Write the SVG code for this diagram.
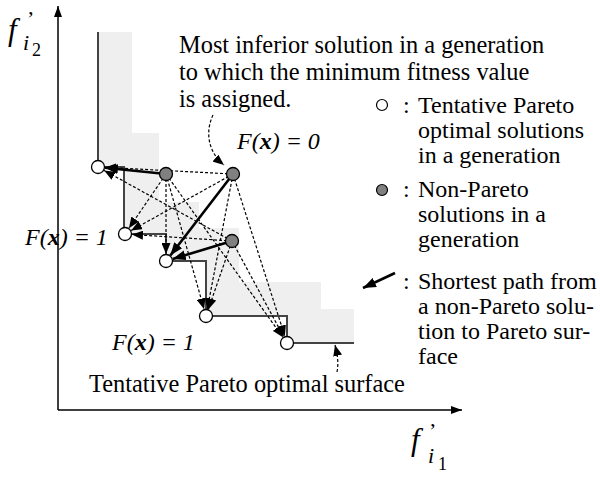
<svg xmlns="http://www.w3.org/2000/svg" width="600" height="477" viewBox="0 0 600 477" font-family="'Liberation Serif', 'DejaVu Serif', serif">
<style>
.t{font-family:'Liberation Serif','DejaVu Serif',serif;font-size:24.4px}
.lg{font-family:'Liberation Serif','DejaVu Serif',serif;font-size:24px}
.fx{font-family:'Liberation Serif','DejaVu Serif',serif;font-size:24px;font-style:italic}
.b{font-weight:bold}
.d{stroke:#000;stroke-width:1.2;stroke-dasharray:3,2;fill:none;marker-end:url(#ah)}
.k{stroke:#000;stroke-width:2.6;fill:none;marker-end:url(#ahk)}
.pw{fill:#fff;stroke:#000;stroke-width:1.3}
.pg{fill:#808080;stroke:#000;stroke-width:1.3}
.ax{stroke:#000;stroke-width:1.5;fill:none}
</style>
<defs>
<marker id="ah" markerUnits="userSpaceOnUse" markerWidth="12" markerHeight="9" refX="11" refY="4.5" orient="auto"><path d="M0,0 L11,4.5 L0,9 z" fill="#000"/></marker>
<marker id="ahk" markerUnits="userSpaceOnUse" markerWidth="14" markerHeight="10" refX="13" refY="5" orient="auto"><path d="M0,0 L13,5 L0,10 z" fill="#000"/></marker>
<marker id="axh" markerUnits="userSpaceOnUse" markerWidth="12" markerHeight="8" refX="11" refY="4" orient="auto"><path d="M0,0 L11,4 L0,8 z" fill="#000"/></marker>
</defs>

<g id="region">
<polygon fill="#efefef" points="98,32 132,32 132,133 159,133 159,202 199,202 199,228 239,228 239,282 321,282 321,309 354,309 354,343 287,343 287,316 206,316 206,262 166,262 166,234 124,234 124,167 98,167"/>
</g>

<g id="axes">
<line class="ax" x1="58" y1="410" x2="58" y2="6" marker-end="url(#axh)"/>
<line class="ax" x1="58" y1="410" x2="462" y2="410" marker-end="url(#axh)"/>
<text class="fx" x="8" y="40" style="font-size:31px">f</text>
<text class="t" x="27" y="26" style="font-size:22px">’</text>
<text class="fx" x="23" y="50" style="font-size:22px">i</text>
<text class="t" x="32" y="56" style="font-size:18px">2</text>
<text class="fx" x="411" y="450" style="font-size:31px">f</text>
<text class="t" x="429" y="438" style="font-size:22px">’</text>
<text class="fx" x="428" y="463" style="font-size:22px">i</text>
<text class="t" x="438" y="470" style="font-size:18px">1</text>
</g>

<g id="surface">
<path d="M98,32 V167 H124 V234 H166 V261 H206 V316 H287 V343 H354" fill="none" stroke="#444" stroke-width="2"/>
</g>

<g id="connectors">
<line class="d" x1="166" y1="174" x2="128.9" y2="228.2"/>
<line class="d" x1="166" y1="174" x2="166" y2="254"/>
<line class="d" x1="166" y1="174" x2="204.1" y2="309.3"/>
<line class="d" x1="166" y1="174" x2="282.9" y2="337.3"/>
<line class="d" x1="233" y1="174" x2="105" y2="167.4"/>
<line class="d" x1="233" y1="174" x2="131.1" y2="230.6"/>
<line class="d" x1="233" y1="174" x2="207.3" y2="309.1"/>
<line class="d" x1="233" y1="174" x2="284.9" y2="336.3"/>
<line class="d" x1="232" y1="241" x2="104.1" y2="170.4"/>
<line class="d" x1="232" y1="241" x2="132" y2="234.5"/>
<line class="d" x1="232" y1="241" x2="208.3" y2="309.4"/>
<line class="d" x1="232" y1="241" x2="283.7" y2="336.8"/>
<line class="k" x1="166" y1="174" x2="105" y2="167.7"/>
<line class="k" x1="233" y1="174" x2="170.3" y2="255.5"/>
<line class="k" x1="232" y1="241" x2="172.7" y2="259"/>
<path class="d" d="M213,115 C205,132 208,152 224,165"/>
<path class="d" d="M337,372 C339,362 337,353 335,345"/>
</g>

<g id="P1"><circle class="pw" cx="98" cy="167" r="6.5"/></g>
<g id="P2"><circle class="pw" cx="125" cy="234" r="6.5"/></g>
<g id="P3"><circle class="pw" cx="166" cy="261" r="6.5"/></g>
<g id="P4"><circle class="pw" cx="206" cy="316" r="6.5"/></g>
<g id="P5"><circle class="pw" cx="287" cy="343" r="6.5"/></g>
<g id="G1"><circle class="pg" cx="166" cy="174" r="6.5"/></g>
<g id="G2"><circle class="pg" cx="233" cy="174" r="6.5"/></g>
<g id="G3"><circle class="pg" cx="232" cy="241" r="6.5"/></g>

<g id="labels">
<text class="t" x="179" y="53">Most inferior solution in a generation</text>
<text class="t" x="179" y="80">to which the minimum fitness value</text>
<text class="t" x="179" y="107">is assigned.</text>
<text class="fx" x="237" y="149">F(<tspan class="b">x</tspan>) = 0</text>
<text class="fx" x="25" y="245">F(<tspan class="b">x</tspan>) = 1</text>
<text class="fx" x="112" y="350">F(<tspan class="b">x</tspan>) = 1</text>
<text class="t" x="89" y="392">Tentative Pareto optimal surface</text>
</g>

<g id="legend">
<circle cx="382" cy="105" r="5.5" fill="#fff" stroke="#000" stroke-width="1.2"/>
<text class="lg" x="403" y="113">:</text>
<text class="lg" x="418" y="113">Tentative Pareto</text>
<text class="lg" x="418" y="138">optimal solutions</text>
<text class="lg" x="418" y="163">in a generation</text>
<circle cx="382" cy="190" r="5.5" fill="#808080" stroke="#000" stroke-width="1.2"/>
<text class="lg" x="403" y="197">:</text>
<text class="lg" x="418" y="197">Non-Pareto</text>
<text class="lg" x="418" y="222">solutions in a</text>
<text class="lg" x="418" y="247">generation</text>
<line class="k" x1="395" y1="273" x2="363" y2="288"/>
<text class="lg" x="403" y="289">:</text>
<text class="lg" x="418" y="289">Shortest path from</text>
<text class="lg" x="418" y="314">a non-Pareto solu-</text>
<text class="lg" x="418" y="339">tion to Pareto sur-</text>
<text class="lg" x="418" y="364">face</text>
</g>
</svg>
